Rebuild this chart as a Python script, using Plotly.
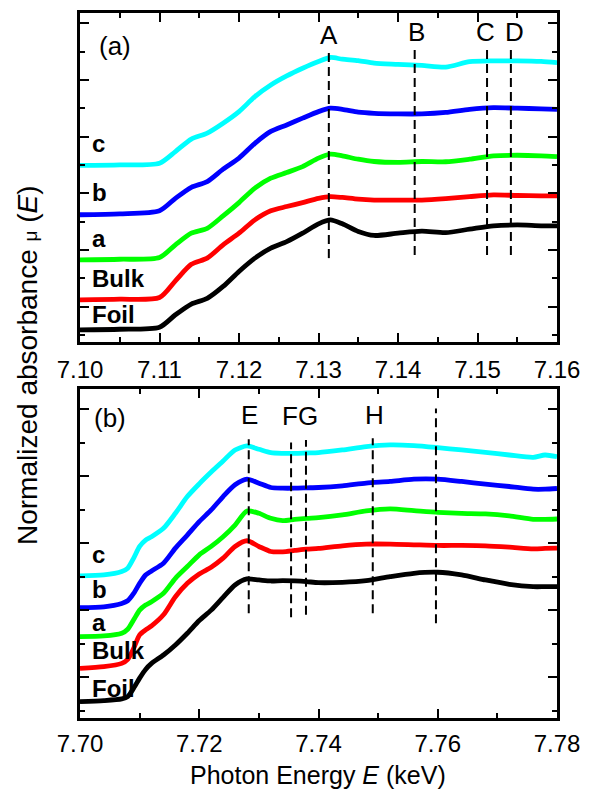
import plotly.graph_objects as go

# ---------------- Panel (a) data ----------------
xa = [7.100, 7.105, 7.110, 7.112, 7.114, 7.116, 7.118, 7.120, 7.122, 7.124, 7.126,
      7.128, 7.130, 7.1315, 7.133, 7.135, 7.137, 7.140, 7.143, 7.146, 7.149, 7.152,
      7.155, 7.158, 7.160]
foil_a = [0.18, 0.20, 0.27, 0.71, 1.09, 1.29, 1.71, 2.24, 2.71, 3.06, 3.29, 3.59, 3.92,
          4.06, 3.92, 3.65, 3.51, 3.59, 3.66, 3.61, 3.73, 3.85, 3.88, 3.85, 3.85]
bulk_a = [1.24, 1.26, 1.32, 1.91, 2.49, 2.71, 3.18, 3.59, 4.06, 4.38, 4.53, 4.67, 4.82,
          4.88, 4.85, 4.79, 4.76, 4.76, 4.76, 4.81, 4.88, 4.94, 4.92, 4.91, 4.91]
sa_a = [2.65, 2.67, 2.73, 3.18, 3.59, 3.76, 4.20, 4.67, 5.18, 5.53, 5.73, 5.94, 6.24,
        6.38, 6.32, 6.20, 6.12, 6.09, 6.12, 6.11, 6.20, 6.32, 6.34, 6.32, 6.29]
sb_a = [4.24, 4.27, 4.38, 4.82, 5.21, 5.41, 5.85, 6.24, 6.76, 7.18, 7.41, 7.65, 7.88,
        8.00, 7.96, 7.86, 7.82, 7.80, 7.80, 7.85, 7.96, 8.02, 8.00, 7.98, 7.96]
sc_a = [5.98, 6.00, 6.06, 6.47, 6.91, 7.12, 7.47, 7.88, 8.41, 8.82, 9.14, 9.41, 9.65,
        9.79, 9.73, 9.68, 9.59, 9.55, 9.51, 9.45, 9.64, 9.67, 9.67, 9.65, 9.61]

feat_a_x = [7.1313, 7.1421, 7.1512, 7.1542]
feat_a_top = [10.0, 10.18, 10.18, 10.18]
feat_a_bot = [2.71, 2.82, 2.82, 2.82]
feat_a_lbl = ["A", "B", "C", "D"]
feat_a_lbl_x = [7.1313, 7.1423, 7.1510, 7.1546]
feat_a_lbl_y = [10.59, 10.70, 10.70, 10.70]

# ---------------- Panel (b) data ----------------
xb = [7.700, 7.704, 7.707, 7.708, 7.709, 7.710, 7.711, 7.712, 7.714, 7.716, 7.718,
      7.720, 7.722, 7.724, 7.726, 7.728, 7.730, 7.732, 7.734, 7.736, 7.738, 7.740,
      7.744, 7.748, 7.752, 7.756, 7.760, 7.764, 7.768, 7.772, 7.776, 7.778, 7.780]
foil_b = [0.27, 0.30, 0.35, 0.42, 0.67, 0.97, 1.23, 1.41, 1.66, 1.96, 2.31, 2.69, 3.00,
          3.38, 3.75, 3.93, 3.90, 3.87, 3.88, 3.87, 3.85, 3.82, 3.83, 3.88, 4.00, 4.10,
          4.13, 4.05, 3.90, 3.77, 3.70, 3.70, 3.70]
bulk_b = [1.26, 1.31, 1.41, 1.53, 1.86, 2.26, 2.41, 2.53, 2.86, 3.40, 3.80, 4.08, 4.28,
          4.55, 4.90, 5.07, 4.90, 4.75, 4.74, 4.78, 4.82, 4.84, 4.92, 4.97, 4.97, 4.95,
          4.93, 4.93, 4.92, 4.88, 4.83, 4.84, 4.85]
sa_b = [2.21, 2.23, 2.31, 2.43, 2.71, 3.00, 3.15, 3.25, 3.50, 3.95, 4.30, 4.65, 4.90,
        5.19, 5.54, 5.96, 5.89, 5.74, 5.67, 5.71, 5.74, 5.76, 5.84, 5.96, 6.02, 5.97,
        5.92, 5.89, 5.87, 5.81, 5.71, 5.71, 5.72]
sb_b = [3.07, 3.10, 3.20, 3.28, 3.50, 3.80, 4.05, 4.17, 4.40, 4.85, 5.24, 5.64, 5.99,
        6.39, 6.74, 6.91, 6.79, 6.66, 6.64, 6.64, 6.65, 6.66, 6.71, 6.79, 6.84, 6.91,
        6.91, 6.84, 6.76, 6.69, 6.61, 6.61, 6.63]
sc_b = [4.02, 4.05, 4.15, 4.25, 4.55, 4.90, 5.09, 5.19, 5.44, 5.89, 6.39, 6.77, 7.12,
        7.45, 7.78, 7.90, 7.80, 7.70, 7.68, 7.68, 7.69, 7.70, 7.78, 7.88, 7.93, 7.91,
        7.85, 7.78, 7.71, 7.63, 7.56, 7.63, 7.58]

feat_b_x = [7.7283, 7.7354, 7.7379, 7.7491, 7.7597]
feat_b_top = [8.10, 8.00, 8.08, 8.13, 9.02]
feat_b_bot = [2.91, 2.79, 2.86, 2.91, 2.61]
feat_b_lbl = ["E", "FG", "H"]
feat_b_lbl_x = [7.7284, 7.7369, 7.7494]
feat_b_lbl_y = [8.83, 8.78, 8.83]

series_names = ["Foil", "Bulk", "a", "b", "c"]
colors = ["#000000", "#ff0000", "#00ff00", "#0000ff", "#00ffff"]
lbl_a_y = [0.71, 2.00, 3.41, 5.02, 6.76]
lbl_b_y = [0.67, 1.79, 2.63, 3.62, 4.65]

FONT = "Arial, Liberation Sans, sans-serif"
W, H = 609, 798

fig = go.Figure()

for name, col, ya in zip(series_names, colors, [foil_a, bulk_a, sa_a, sb_a, sc_a]):
    fig.add_trace(go.Scatter(x=xa, y=ya, mode="lines", name=name,
                             line=dict(color=col, width=4.8, shape="spline", smoothing=0.7),
                             xaxis="x", yaxis="y", showlegend=False))
for name, col, yb in zip(series_names, colors, [foil_b, bulk_b, sa_b, sb_b, sc_b]):
    fig.add_trace(go.Scatter(x=xb, y=yb, mode="lines", name=name,
                             line=dict(color=col, width=4.8, shape="spline", smoothing=0.7),
                             xaxis="x2", yaxis="y2", showlegend=False))

for fx, ft, fb in zip(feat_a_x, feat_a_top, feat_a_bot):
    fig.add_trace(go.Scatter(x=[fx, fx], y=[fb, ft], mode="lines",
                             line=dict(color="black", width=2, dash="9px,5px"),
                             xaxis="x", yaxis="y", showlegend=False))
for fx, ft, fb in zip(feat_b_x, feat_b_top, feat_b_bot):
    fig.add_trace(go.Scatter(x=[fx, fx], y=[fb, ft], mode="lines",
                             line=dict(color="black", width=2, dash="9px,5px"),
                             xaxis="x2", yaxis="y2", showlegend=False))

ann = []
for t, lx, ly in zip(feat_a_lbl, feat_a_lbl_x, feat_a_lbl_y):
    ann.append(dict(text=t, x=lx, y=ly, xref="x", yref="y", showarrow=False,
                    font=dict(size=26, color="black", family=FONT)))
for t, lx, ly in zip(feat_b_lbl, feat_b_lbl_x, feat_b_lbl_y):
    ann.append(dict(text=t, x=lx, y=ly, xref="x2", yref="y2", showarrow=False,
                    font=dict(size=26, color="black", family=FONT)))
for name, ly in zip(series_names, lbl_a_y):
    ann.append(dict(text="<b>%s</b>" % name, x=7.1013, y=ly, xref="x", yref="y",
                    xanchor="left", showarrow=False,
                    font=dict(size=24, color="black", family=FONT)))
for name, ly in zip(series_names, lbl_b_y):
    ann.append(dict(text="<b>%s</b>" % name, x=7.7016, y=ly, xref="x2", yref="y2",
                    xanchor="left", showarrow=False,
                    font=dict(size=24, color="black", family=FONT)))
ann.append(dict(text="(a)", x=7.1021, y=10.18, xref="x", yref="y", xanchor="left",
                showarrow=False, font=dict(size=26, color="black", family=FONT)))
ann.append(dict(text="(b)", x=7.7020, y=8.73, xref="x2", yref="y2", xanchor="left",
                showarrow=False, font=dict(size=26, color="black", family=FONT)))
ann.append(dict(text="Normalized absorbance <span style='font-size:19px'>\u03bc</span> (<i>E</i>)",
                x=27 / W, y=1 - 365 / H, xref="paper", yref="paper", showarrow=False,
                textangle=-90, xanchor="center", yanchor="middle",
                font=dict(size=28, color="black", family=FONT)))
ann.append(dict(text="Photon Energy <i>E</i> (keV)", x=318 / W, y=1 - 775 / H,
                xref="paper", yref="paper", showarrow=False,
                xanchor="center", yanchor="middle",
                font=dict(size=25, color="black", family=FONT)))

xdom = [80 / W, 557 / W]
common_axis = dict(showline=True, linecolor="black", linewidth=3, mirror="ticks",
                   ticks="inside", tickcolor="black", tickwidth=2, showgrid=False,
                   zeroline=False, automargin=False)

fig.update_layout(
    width=W, height=H, margin=dict(l=0, r=0, t=0, b=0),
    paper_bgcolor="white", plot_bgcolor="white",
    font=dict(family=FONT, color="black"),
    annotations=ann,
    xaxis=dict(common_axis, domain=xdom, anchor="y", range=[7.10, 7.16],
               tick0=7.10, dtick=0.01, ticklen=9, tickformat=".2f",
               tickfont=dict(size=24), ticklabelstandoff=4,
               minor=dict(dtick=0.005, ticks="inside", ticklen=5, tickwidth=2,
                          tickcolor="black")),
    yaxis=dict(common_axis, domain=[1 - 342 / H, 1 - 13 / H], anchor="x",
               range=[-0.25, 11.36], tick0=1, dtick=2, ticklen=9, showticklabels=False,
               minor=dict(dtick=1, ticks="inside", ticklen=5, tickwidth=2,
                          tickcolor="black")),
    xaxis2=dict(common_axis, domain=xdom, anchor="y2", range=[7.70, 7.78],
                tick0=7.70, dtick=0.02, ticklen=9, tickformat=".2f",
                tickfont=dict(size=24), ticklabelstandoff=2,
                minor=dict(dtick=0.01, ticks="inside", ticklen=5, tickwidth=2,
                           tickcolor="black")),
    yaxis2=dict(common_axis, domain=[1 - 718 / H, 1 - 389 / H], anchor="x2",
                range=[-0.22, 9.6], tick0=1, dtick=2, ticklen=9, showticklabels=False,
                minor=dict(dtick=1, ticks="inside", ticklen=5, tickwidth=2,
                           tickcolor="black")),
)

fig.write_html("out.html")
